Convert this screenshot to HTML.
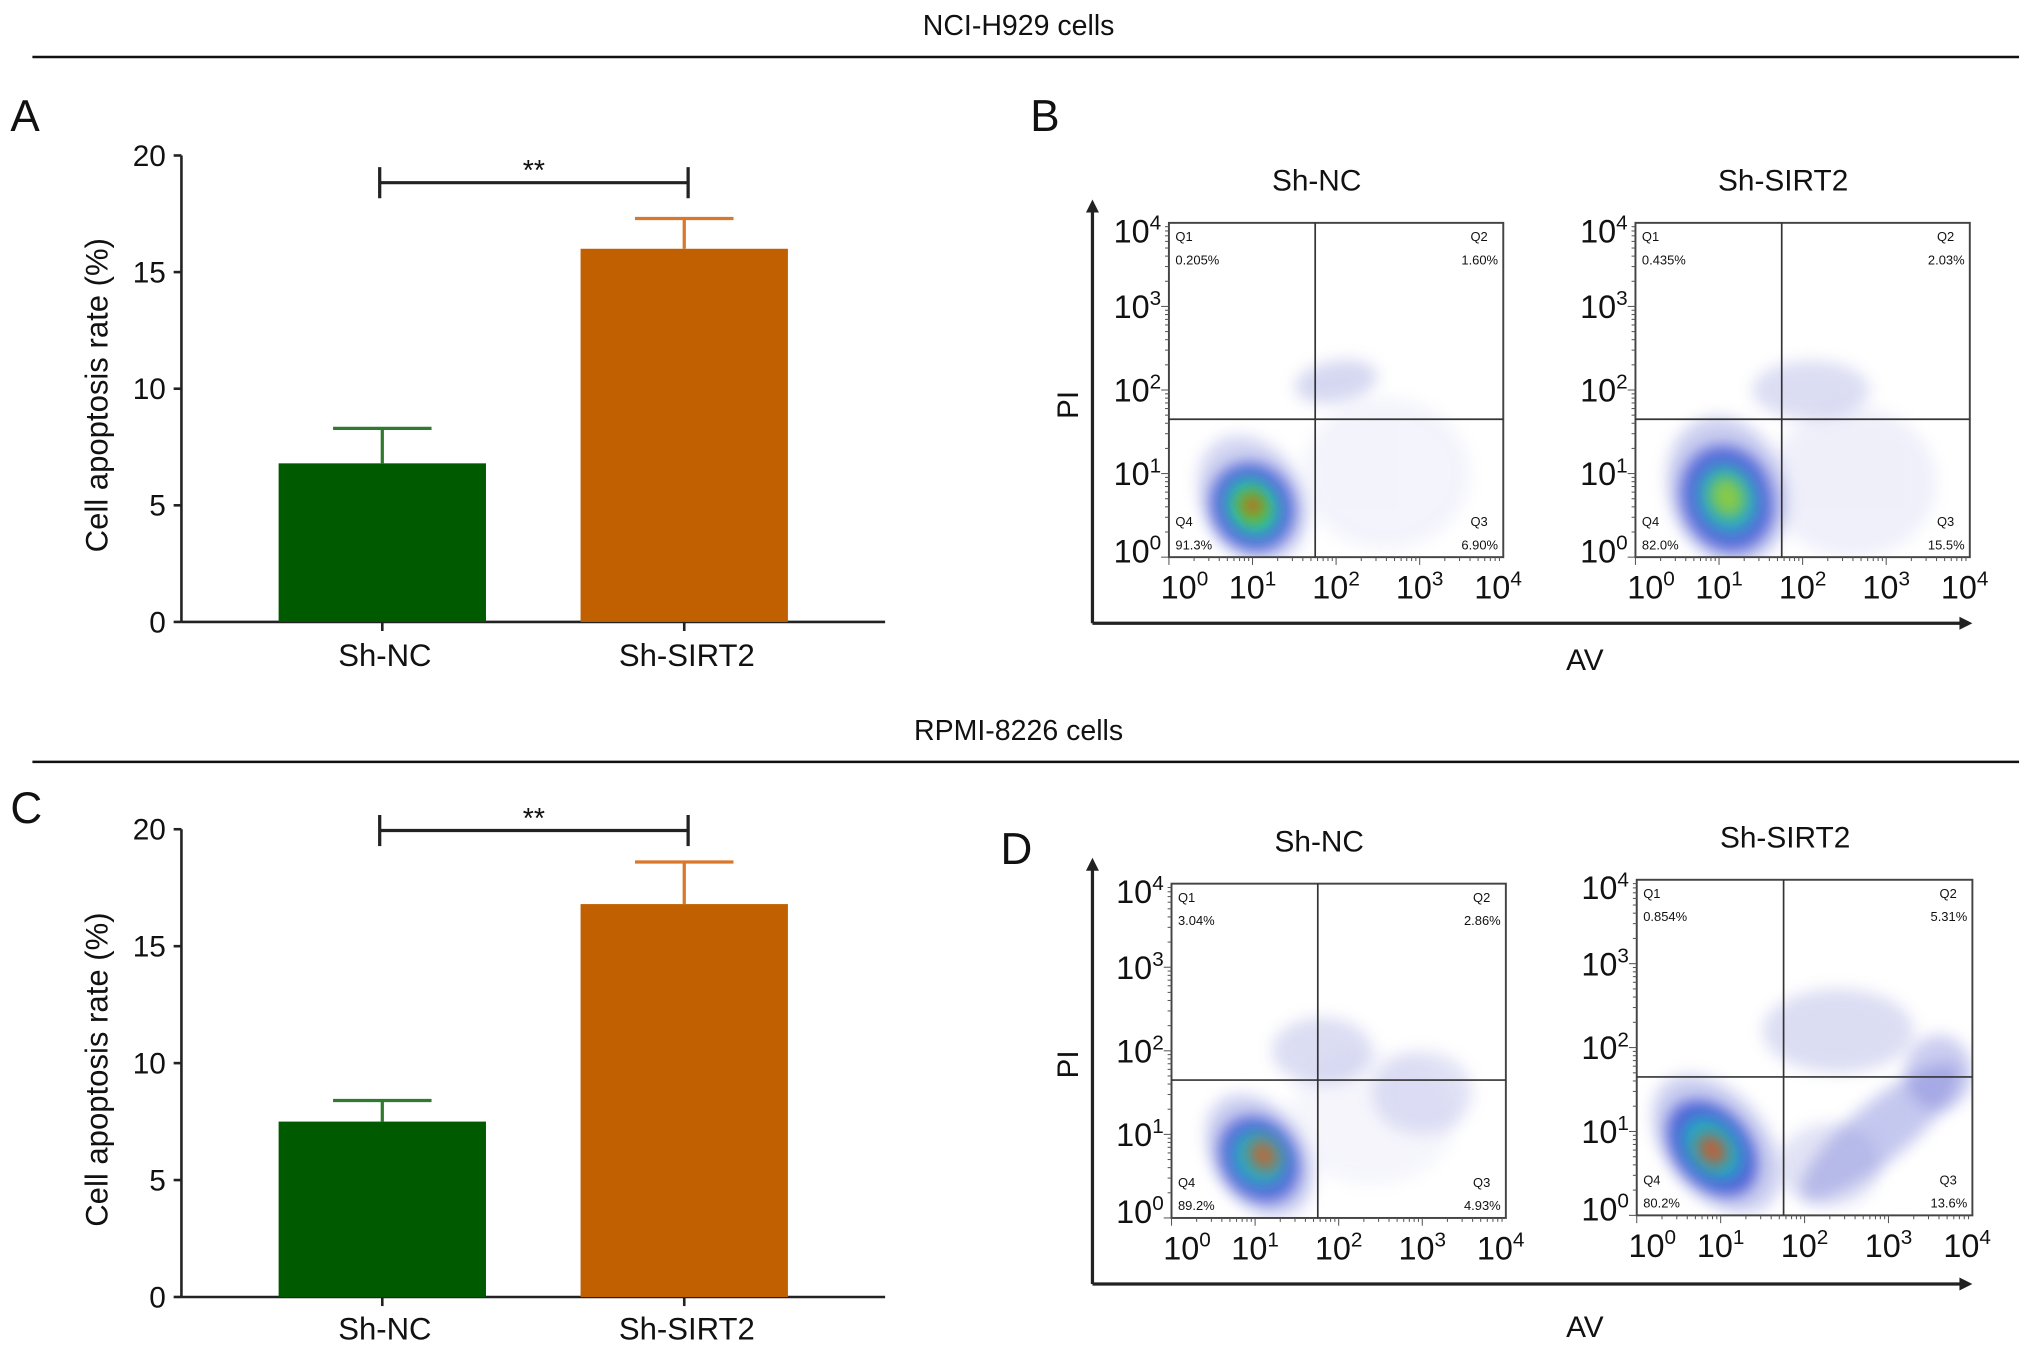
<!DOCTYPE html>
<html><head><meta charset="utf-8">
<style>
html,body{margin:0;padding:0;background:#fff;}
svg{display:block;}
text{font-family:"Liberation Sans",sans-serif;fill:#111;}
</style></head>
<body>
<svg id="fig" width="2032" height="1354" viewBox="0 0 1568 1045" preserveAspectRatio="none" xmlns="http://www.w3.org/2000/svg">
<defs>
<filter id="blur6" x="-50%" y="-50%" width="200%" height="200%"><feGaussianBlur stdDeviation="6"/></filter>
</defs>
<g>
<text x="786" y="27" font-size="22" text-anchor="middle">NCI-H929 cells</text>
<line x1="25" y1="44" x2="1558" y2="44" stroke="#111" stroke-width="2"/>
</g>
<g>
<text x="786" y="571" font-size="22" text-anchor="middle">RPMI-8226 cells</text>
<line x1="25" y1="588" x2="1558" y2="588" stroke="#111" stroke-width="2"/>
</g>
<text x="8" y="101" font-size="34">A</text>
<text x="795" y="101" font-size="34">B</text>
<text x="8" y="635" font-size="34">C</text>
<text x="772" y="667" font-size="34">D</text>
<g id="charts"></g>
</svg>
<script>
// Bar chart data
const barCategories = ["Sh-NC", "Sh-SIRT2"];
const barValuesA = [6.8, 16.0];
const barErrorsA = [1.5, 1.3];
const barValuesC = [7.5, 16.8];
const barErrorsC = [0.9, 1.8];
const yTicks = [0, 5, 10, 15, 20];
const barColors = ["#005a00", "#c06000"];
const errColors = ["#2e7a2e", "#d9782a"];

// Flow cytometry quadrant percentages
const flowTitles = ["Sh-NC", "Sh-SIRT2"];
const quadB1 = ["0.205%", "1.60%", "6.90%", "91.3%"];
const quadB2 = ["0.435%", "2.03%", "15.5%", "82.0%"];
const quadD1 = ["3.04%", "2.86%", "4.93%", "89.2%"];
const quadD2 = ["0.854%", "5.31%", "13.6%", "80.2%"];
// gate positions in decades [x, y]
const gateB1 = [1.75, 1.65];
const gateB2 = [1.75, 1.65];
const gateD1 = [1.75, 1.65];
const gateD2 = [1.75, 1.65];
// density clouds: [xDecade, yDecade, rxDecade, ryDecade, rotation, color, opacity]
const cloudsB1 = [[1.0,0.7,0.6,0.8,-30,"#7f86d8",0.35],[1.0,0.6,0.5,0.55,-30,"#2a3fd0",0.7],[1.0,0.6,0.32,0.38,-30,"#18c0c0",0.8],[1.0,0.6,0.2,0.24,-30,"#5fd030",0.9],[1.0,0.62,0.1,0.12,-30,"#e04010",0.9],[2.0,2.1,0.5,0.25,-10,"#8a90d8",0.35],[2.6,1.0,1.0,0.9,0,"#b0b4e6",0.15]];
const cloudsB2 = [[1.1,0.8,0.7,0.9,-20,"#7f86d8",0.4],[1.1,0.7,0.55,0.65,-20,"#2a3fd0",0.7],[1.1,0.7,0.35,0.42,-20,"#18c0c0",0.75],[1.1,0.72,0.2,0.25,-20,"#9ad030",0.85],[2.1,2.0,0.7,0.35,0,"#8a90d8",0.3],[2.6,0.9,1.0,0.9,0,"#a8ace4",0.18]];
const cloudsD1 = [[1.05,0.75,0.55,0.8,-35,"#7f86d8",0.4],[1.05,0.7,0.45,0.55,-35,"#2a3fd0",0.7],[1.05,0.72,0.3,0.35,-35,"#18c0c0",0.8],[1.1,0.75,0.16,0.2,-35,"#d06020",0.85],[1.8,2.0,0.6,0.4,0,"#8a90d8",0.3],[3.0,1.5,0.6,0.5,0,"#9ea2e0",0.3],[2.4,1.2,1.0,0.8,0,"#b0b4e6",0.12]];
const cloudsD2 = [[0.95,0.85,0.6,0.95,-40,"#7f86d8",0.4],[0.9,0.8,0.45,0.65,-40,"#2a3fd0",0.75],[0.9,0.8,0.3,0.42,-40,"#18c0c0",0.8],[0.9,0.78,0.15,0.2,-40,"#e05018",0.85],[2.4,2.2,0.9,0.5,0,"#8a90d8",0.3],[2.9,1.0,1.2,0.35,-40,"#5a62d0",0.35],[3.6,1.7,0.4,0.45,0,"#6a70d4",0.35],[2.3,0.6,0.6,0.5,0,"#8a90d8",0.25]];

const NS = "http://www.w3.org/2000/svg";
const root = document.getElementById('charts');
function mk(tag, attrs, parent, txt){
  const e = document.createElementNS(NS, tag);
  for (const k in attrs) e.setAttribute(k, attrs[k]);
  if (txt !== undefined) e.textContent = txt;
  (parent || root).appendChild(e);
  return e;
}

function barChart(name, x0, x1, yBase, yTop, values, errors, sigY, labelY){
  const g = mk('g', {}, root);
  
  
  const yScale = v => yBase - (v / 20) * (yBase - yTop);
  const barX = [215, 448];
  const barW = 160;
  const ax = mk('line', {x1:x0, y1:yTop, x2:x0, y2:yBase, stroke:'#222', 'stroke-width':2}, g);
  
  
  const xa = mk('line', {x1:x0, y1:yBase, x2:x1, y2:yBase, stroke:'#222', 'stroke-width':2}, g);
  
  
  yTicks.forEach(t => {
    const y = yScale(t);
    mk('line', {x1:x0-6, y1:y, x2:x0, y2:y, stroke:'#222', 'stroke-width':2}, g);
    const tl = mk('text', {x:x0-12, y:y+8, 'font-size':23, 'text-anchor':'end'}, g, String(t));
    
    
  });
  const yt = mk('text', {x:0, y:0, 'font-size':24, 'text-anchor':'middle', transform:`translate(83 ${(yBase+yTop)/2 + 5}) rotate(-90)`}, g, 'Cell apoptosis rate (%)');
  
  
  values.forEach((v, i) => {
    const cx = barX[i] + barW/2;
    const r = mk('rect', {x:barX[i], y:yScale(v), width:barW, height:yBase-yScale(v), fill:barColors[i]}, g);
    
    
    const top = yScale(v + errors[i]);
    const e1 = mk('line', {x1:cx, y1:yScale(v), x2:cx, y2:top, stroke:errColors[i], 'stroke-width':2.5}, g);
    
    
    mk('line', {x1:cx-38, y1:top, x2:cx+38, y2:top, stroke:errColors[i], 'stroke-width':2.5}, g);
    mk('line', {x1:cx, y1:yBase, x2:cx, y2:yBase+7, stroke:'#222', 'stroke-width':2}, g);
    const lb = mk('text', {x:cx+2, y:labelY, 'font-size':24, 'text-anchor':'middle'}, g, barCategories[i]);
    
    
  });
  const c0 = barX[0] + barW/2 - 2, c1 = barX[1] + barW/2 + 3;
  const sg = mk('g', {}, g);
  
  
  mk('line', {x1:c0, y1:sigY, x2:c1, y2:sigY, stroke:'#222', 'stroke-width':2.5}, sg);
  mk('line', {x1:c0, y1:sigY-12, x2:c0, y2:sigY+12, stroke:'#222', 'stroke-width':2.5}, sg);
  mk('line', {x1:c1, y1:sigY-12, x2:c1, y2:sigY+12, stroke:'#222', 'stroke-width':2.5}, sg);
  mk('text', {x:(c0+c1)/2, y:sigY-2, 'font-size':22, 'text-anchor':'middle'}, sg, '**');
}

function sup(parent, x, y, exp, anchor){
  const t = mk('text', {x:x, y:y, 'font-size':25, 'text-anchor':anchor||'middle'}, parent);
  const b = document.createElementNS(NS,'tspan'); b.textContent='10'; t.appendChild(b);
  const s = document.createElementNS(NS,'tspan'); s.setAttribute('dy','-10'); s.setAttribute('font-size','16'); s.textContent=String(exp); t.appendChild(s);
  return t;
}

function flowPlot(name, bx, by, size, title, quads, gate, clouds){
  const g = mk('g', {}, root);
  
  
  const sx = d => bx + d/4*size;
  const sy = d => by + size - d/4*size;
  const k = size/4;
  const clip = 'clip-' + name;
  const cp = mk('clipPath', {id:clip}, g);
  mk('rect', {x:bx, y:by, width:size, height:size}, cp);
  const cg = mk('g', {'clip-path':`url(#${clip})`}, g);
  
  
  clouds.forEach(c => {
    const e = mk('ellipse', {cx:sx(c[0]), cy:sy(c[1]), rx:c[2]*k, ry:c[3]*k, fill:c[5], opacity:c[6], filter:'url(#blur6)', transform:`rotate(${c[4]} ${sx(c[0])} ${sy(c[1])})`}, cg);
    
    
  });
  mk('rect', {x:bx, y:by, width:size, height:size, fill:'none', stroke:'#444', 'stroke-width':1.5}, g);
  const gx = sx(gate[0]), gy = sy(gate[1]);
  const gv = mk('line', {x1:gx, y1:by, x2:gx, y2:by+size, stroke:'#333', 'stroke-width':1.3}, g);
  
  
  const gh = mk('line', {x1:bx, y1:gy, x2:bx+size, y2:gy, stroke:'#333', 'stroke-width':1.3}, g);
  
  
  for (let d=0; d<4; d++){
    for (let m=1; m<10; m++){
      const off = Math.log10(m)*k;
      const len = m===1?6:3;
      mk('line', {x1:bx+d*k+off, y1:by+size, x2:bx+d*k+off, y2:by+size+len, stroke:'#555', 'stroke-width':0.8}, g);
      mk('line', {x1:bx-len, y1:by+size-d*k-off, x2:bx, y2:by+size-d*k-off, stroke:'#555', 'stroke-width':0.8}, g);
    }
  }
  for (let d=0; d<=4; d++){
    const xl = sup(g, sx(d)+ (d===0?12:d===4?-4:0), by+size+32, d);
    
    
    const yl = sup(g, bx-6, sy(d)+9 + (d===0?-5:d===4?6:0), d, 'end');
    
    
  }
  const ql = ['Q1','Q2','Q3','Q4'];
  const pos = [[bx+5,by+14,'start'],[bx+size-12,by+14,'end'],[bx+size-12,by+size-24,'end'],[bx+5,by+size-24,'start']];
  ql.forEach((q,i) => {
    const t1 = mk('text', {x:pos[i][0], y:pos[i][1], 'font-size':10, 'text-anchor':pos[i][2], fill:'#333'}, g, q);
    
    
    const t2 = mk('text', {x:pos[i][0]+(i===1||i===2?8:0), y:pos[i][1]+18, 'font-size':10, 'text-anchor':pos[i][2], fill:'#333'}, g, quads[i]);
    
    
  });
  const tt = mk('text', {x:bx+size/2-15, y:by-25, 'font-size':23, 'text-anchor':'middle'}, g, title);
  
  
}

function bigAxes(name, x, yTop, yBase, xEnd, avY){
  const g = mk('g', {}, root);
  
  
  mk('line', {x1:x, y1:yTop+6, x2:x, y2:yBase, stroke:'#222', 'stroke-width':2.5}, g);
  mk('path', {d:`M${x-5} ${yTop+10} L${x} ${yTop} L${x+5} ${yTop+10} Z`, fill:'#222'}, g);
  mk('line', {x1:x, y1:yBase, x2:xEnd-6, y2:yBase, stroke:'#222', 'stroke-width':2.5}, g);
  mk('path', {d:`M${xEnd-10} ${yBase-5} L${xEnd} ${yBase} L${xEnd-10} ${yBase+5} Z`, fill:'#222'}, g);
  const pi = mk('text', {x:0, y:0, 'font-size':23, 'text-anchor':'middle', transform:`translate(832 ${(yTop+yBase)/2 - 5}) rotate(-90)`}, g, 'PI');
  
  
  const av = mk('text', {x:1223, y:avY, 'font-size':23, 'text-anchor':'middle'}, g, 'AV');
  
  
}

barChart('bar-chart-a', 140, 683, 480, 120, barValuesA, barErrorsA, 141, 514);
barChart('bar-chart-c', 140, 683, 1001, 640, barValuesC, barErrorsC, 641, 1034);
bigAxes('flow-axes-b', 843, 154, 481, 1522, 517);
bigAxes('flow-axes-d', 843, 662, 991, 1522, 1032);
flowPlot('flow-plot-b1', 902, 172, 258, flowTitles[0], quadB1, gateB1, cloudsB1);
flowPlot('flow-plot-b2', 1262, 172, 258, flowTitles[1], quadB2, gateB2, cloudsB2);
flowPlot('flow-plot-d1', 904, 682, 258, flowTitles[0], quadD1, gateD1, cloudsD1);
flowPlot('flow-plot-d2', 1263, 679, 259, flowTitles[1], quadD2, gateD2, cloudsD2);
</script>
</body></html>
